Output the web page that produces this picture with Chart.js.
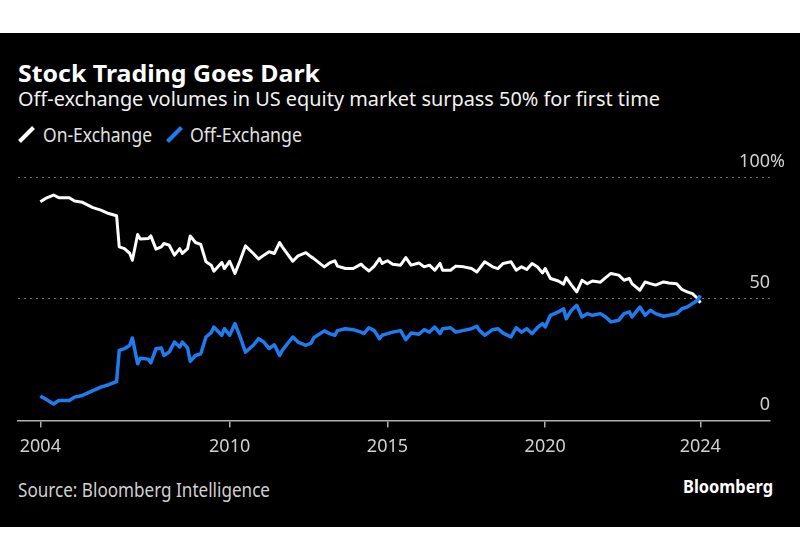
<!DOCTYPE html>
<html><head><meta charset="utf-8">
<script src="https://cdn.jsdelivr.net/npm/chart.js@4.4.1/dist/chart.umd.min.js"></script>
<style>
html,body{margin:0;padding:0;background:#fff;width:800px;height:560px;overflow:hidden;}
#panel{position:absolute;left:0;top:33px;width:800px;height:494px;background:#000;}
.t{position:absolute;left:0;top:0;white-space:nowrap;font-family:"Noto Sans",sans-serif;line-height:normal;transform-origin:0 0;}
#c{position:absolute;left:0;top:0;}
svg{position:absolute;left:0;top:0;}
</style></head><body>
<div id="panel"></div>
<svg width="800" height="560">
  <line x1="19.5" y1="141.5" x2="33.5" y2="127.5" stroke="#ffffff" stroke-width="4" stroke-linecap="butt"/>
  <line x1="167.5" y1="141.5" x2="181.5" y2="127.5" stroke="#1e7bf0" stroke-width="4" stroke-linecap="butt"/>
</svg>
<div class="t" id="title" style="font-weight:700;color:#fff">Stock Trading Goes Dark</div>
<div class="t" id="sub" style="color:#f2f2f2">Off-exchange volumes in US equity market surpass 50% for first time</div>
<div class="t" id="leg1" style="color:#e2e2e2">On-Exchange</div>
<div class="t" id="leg2" style="color:#e2e2e2">Off-Exchange</div>
<div class="t" id="src" style="color:#d0d0d0">Source: Bloomberg Intelligence</div>
<div class="t" id="brand" style="font-weight:700;color:#fff">Bloomberg</div>
<canvas id="c" width="800" height="560"></canvas>
<script>
// ---- data ----
const dates = [
 '2004-01','2004-03','2004-06','2004-08','2004-12','2005-02','2005-05','2005-09','2005-12','2006-03',
 '2006-06','2006-07','2006-09','2006-11','2006-12','2007-02','2007-03','2007-06','2007-07','2007-09',
 '2007-11','2007-12','2008-02','2008-04','2008-06','2008-07','2008-09','2008-10','2008-12','2009-02',
 '2009-04','2009-06','2009-07','2009-10','2009-11','2010-01','2010-03','2010-05','2010-07','2010-10',
 '2010-12','2011-02','2011-04','2011-06','2011-08','2011-09','2012-01','2012-03','2012-06','2012-08',
 '2012-09','2013-01','2013-03','2013-05','2013-06','2013-09','2013-12','2014-03','2014-04','2014-06',
 '2014-08','2014-10','2014-11','2015-01','2015-03','2015-06','2015-08','2015-10','2016-01','2016-03',
 '2016-05','2016-07','2016-09','2016-10','2017-01','2017-03','2017-06','2017-09','2017-11','2017-12',
 '2018-02','2018-05','2018-07','2018-09','2018-12','2019-02','2019-04','2019-06','2019-08','2019-10',
 '2019-12','2020-01','2020-03','2020-06','2020-08','2020-09','2020-11','2021-01','2021-03','2021-05',
 '2021-07','2021-10','2021-12','2022-02','2022-05','2022-07','2022-09','2022-10','2023-01','2023-03',
 '2023-05','2023-07','2023-10','2023-12','2024-03','2024-05','2024-07','2024-09','2024-11','2024-12'
];
const onExchange = [
 89.8,91.2,92.6,91.5,91.5,90.1,89.6,87.4,86.4,85.0,
 84.1,71.3,70.6,68.6,65.8,76.4,74.5,74.7,75.8,70.4,
 71.3,72.7,72.0,67.9,70.6,68.6,70.6,75.8,73.1,72.3,
 65.2,63.8,61.3,64.9,62.4,65.4,60.4,65.8,71.7,68.6,
 66.3,67.9,69.3,68.6,73.1,71.3,65.4,67.6,68.9,67.2,
 66.5,63.1,64.7,65.6,63.4,62.4,62.4,64.2,63.1,61.4,
 63.4,66.5,64.5,65.6,64.2,63.8,66.9,63.8,64.7,63.1,
 63.8,61.7,64.5,61.7,61.7,63.4,63.1,62.4,61.0,62.4,
 65.2,63.1,62.4,64.5,65.2,61.7,63.1,62.0,64.5,63.1,
 60.6,62.4,58.3,57.3,56.0,58.7,55.6,52.8,57.6,56.2,
 57.3,56.8,58.7,60.4,59.7,57.6,58.3,56.2,53.5,56.9,
 56.2,55.6,56.9,56.5,56.2,53.8,52.8,52.1,50.1,48.3
];
const offExchange = [
 10.0,8.8,6.8,8.2,8.2,9.6,10.3,12.3,13.7,14.7,
 16.0,28.8,29.5,30.9,33.9,23.3,25.6,25.2,23.7,29.5,
 29.8,26.7,28.1,32.2,30.2,32.2,29.8,24.3,26.7,27.4,
 34.3,36.1,38.4,35.0,37.7,35.0,39.8,34.3,28.1,30.9,
 33.6,32.2,29.5,31.1,26.7,28.8,34.3,32.2,30.9,31.8,
 34.0,36.8,35.7,35.0,36.9,37.7,37.3,36.3,35.7,38.1,
 36.9,33.6,35.0,35.7,36.3,36.9,33.2,35.9,35.4,37.3,
 36.3,38.4,35.7,37.7,38.1,36.3,37.0,37.7,38.7,37.0,
 35.0,37.3,37.7,35.9,34.3,38.1,36.3,37.7,35.7,38.1,
 39.8,38.4,43.2,44.6,45.9,41.8,45.3,47.3,42.5,43.9,
 43.2,43.9,42.5,40.5,41.2,43.9,44.6,42.5,46.6,43.2,
 45.3,43.9,42.8,43.2,43.9,45.9,46.6,48.0,49.4,51.4
];
const xTickDates  = ['2004-01','2010-01','2015-01','2020-01','2024-12'];
const xTickLabels = ['2004','2010','2015','2020','2024'];
const yTickValues = [0, 50, 100];
const yTickLabels = ['0', '50', '100'];
const yTopSuffix = '%';

// ---- helpers ----
function monthIndex(s){ const [y,m]=s.split('-').map(Number); return (y-2004)*12 + (m-1); }
const series = arr => dates.map((d,i)=>({x: monthIndex(d), y: arr[i]}));

function place(id, capH, targetW, x, baseline, alignRight){
  const el = document.getElementById(id);
  const fs = capH/0.714;
  el.style.fontSize = fs + 'px';
  const mk = document.createElement('span');
  mk.style.cssText = 'display:inline-block;width:0;height:0;vertical-align:baseline';
  el.appendChild(mk);
  const r = el.getBoundingClientRect();
  const k = targetW / r.width;
  const bl = mk.getBoundingClientRect().top - r.top;
  const left = alignRight ? x - targetW : x;
  el.style.left = left + 'px';
  el.style.top = (baseline - bl) + 'px';
  el.style.transform = 'scaleX(' + k + ')';
}
place('title', 17, 302, 18, 82);
place('sub', 14.5, 642, 18, 106);
place('leg1', 14, 109, 43, 141.5);
place('leg2', 14, 112, 190, 141.5);
place('src', 14, 252, 18, 497);
place('brand', 13, 90, 773, 493, true);

const yLabels = {
  id: 'yLabels',
  afterDatasetsDraw(chart){
    const {ctx, chartArea, scales:{y}} = chart;
    ctx.save();
    ctx.font = '18px "Noto Sans"';
    ctx.fillStyle = '#d0d0d0';
    ctx.textBaseline = 'alphabetic';
    yTickValues.forEach((v,i)=>{
      const py = y.getPixelForValue(v) - 10.5;
      ctx.textAlign = 'right';
      ctx.fillText(yTickLabels[i], chartArea.right, py);
      if (i === yTickValues.length-1){
        ctx.textAlign = 'left';
        ctx.fillText(yTopSuffix, chartArea.right, py);
      }
    });
    ctx.restore();
  }
};

new Chart(document.getElementById('c'), {
  type: 'line',
  data: {
    datasets: [
      {label:'Off-Exchange', data: series(offExchange), borderColor:'#1e7bf0', borderWidth:3.5, pointRadius:0, tension:0, borderJoinStyle:'round'},
      {label:'On-Exchange', data: series(onExchange), borderColor:'#ffffff', borderWidth:3, pointRadius:0, tension:0, borderJoinStyle:'round'}
    ]
  },
  options: {
    responsive:false, animation:false, devicePixelRatio:1,
    layout:{padding:{left:18, right:30, top:177, bottom:94.5}},
    plugins:{legend:{display:false}, tooltip:{enabled:false}},
    scales:{
      x:{
        type:'linear', min:-8.5, max:277.5,
        afterBuildTicks: ax => { ax.ticks = xTickDates.map(d=>({value: monthIndex(d)})); },
        afterFit: s => { s.height = 45; },
        ticks:{ callback:(v,i)=>xTickLabels[i], color:'#d0d0d0', font:{family:'Noto Sans', size:18}, padding:9, maxRotation:0, autoSkip:false },
        grid:{ drawOnChartArea:false, drawTicks:true, tickLength:7, color:'#b0b0b0', lineWidth:1.5 },
        border:{ display:true, color:'#b0b0b0', width:1.5 }
      },
      y:{
        position:'right', min:0, max:100,
        afterBuildTicks: ax => { ax.ticks = yTickValues.map(v=>({value:v})); },
        afterFit: s => { s.width = 0; },
        ticks:{ display:false },
        grid:{ drawTicks:false, lineWidth:1, color: ctx => ctx.tick && ctx.tick.value === 0 ? 'rgba(0,0,0,0)' : '#707070' },
        border:{ display:false, dash:[2,4] }
      }
    }
  },
  plugins:[yLabels]
});
</script>
</body></html>
